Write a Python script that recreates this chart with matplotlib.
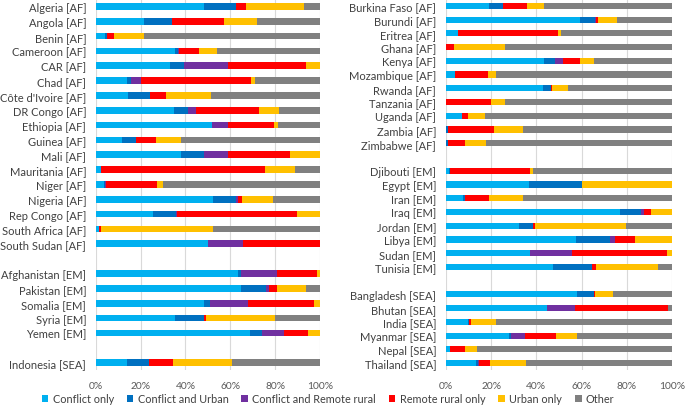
import numpy as np
import matplotlib.pyplot as plt

plt.rcParams['font.family'] = ['Lato', 'DejaVu Sans']

categorias = ['Conflict only', 'Conflict and Urban', 'Conflict and Remote rural',
              'Remote rural only', 'Urban only', 'Other']
colores = ['#00B0F0', '#0070C0', '#7030A0', '#FF0000', '#FFC000', '#808080']

# Panel izquierdo (None = fila vacía)
paises_izq = ['Algeria [AF]', 'Angola [AF]', 'Benin [AF]', 'Cameroon [AF]', 'CAR [AF]',
              'Chad [AF]', "Côte d'Ivoire [AF]", 'DR Congo [AF]', 'Ethiopia [AF]',
              'Guinea [AF]', 'Mali [AF]', 'Mauritania [AF]', 'Niger [AF]', 'Nigeria [AF]',
              'Rep Congo [AF]', 'South Africa [AF]', 'South Sudan [AF]', None,
              'Afghanistan [EM]', 'Pakistan [EM]', 'Somalia [EM]', 'Syria [EM]',
              'Yemen [EM]', None, 'Indonesia [SEA]']
valores_izq = [
    [48.4, 14.0, 0.0, 4.8, 25.9, 6.9],
    [21.6, 12.3, 0.0, 23.4, 14.8, 27.9],
    [4.2, 0.6, 0.0, 3.3, 13.4, 78.5],
    [35.5, 1.0, 0.8, 8.7, 8.2, 45.8],
    [33.1, 6.2, 19.8, 34.5, 6.4, 0.0],
    [13.7, 1.8, 4.6, 49.3, 1.8, 28.8],
    [14.5, 9.7, 0.0, 7.1, 20.2, 48.5],
    [34.9, 6.0, 3.6, 28.2, 9.2, 18.1],
    [51.8, 0.0, 7.2, 20.6, 1.7, 18.7],
    [11.6, 6.3, 0.0, 8.8, 11.4, 61.9],
    [37.9, 10.2, 10.7, 27.8, 13.4, 0.0],
    [2.4, 0.0, 0.0, 73.3, 13.4, 10.9],
    [3.6, 0.4, 0.3, 22.9, 2.7, 70.1],
    [52.5, 10.2, 0.6, 2.1, 13.7, 20.9],
    [25.5, 10.3, 0.6, 53.3, 10.3, 0.0],
    [1.2, 0.0, 0.0, 0.9, 50.4, 47.5],
    [49.9, 0.0, 15.6, 34.4, 0.1, 0.0],
    None,
    [63.6, 1.3, 16.1, 17.5, 1.5, 0.0],
    [64.8, 11.0, 1.7, 3.5, 12.6, 6.4],
    [48.4, 2.6, 16.9, 29.4, 2.7, 0.0],
    [35.5, 12.6, 0.0, 1.0, 30.8, 20.1],
    [68.8, 5.4, 9.8, 10.5, 5.5, 0.0],
    None,
    [13.9, 10.0, 0.0, 10.7, 26.3, 39.1],
]

# Panel derecho
paises_der = ['Burkina Faso [AF]', 'Burundi [AF]', 'Eritrea [AF]', 'Ghana [AF]',
              'Kenya [AF]', 'Mozambique [AF]', 'Rwanda [AF]', 'Tanzania [AF]',
              'Uganda [AF]', 'Zambia [AF]', 'Zimbabwe [AF]', None,
              'Djibouti [EM]', 'Egypt [EM]', 'Iran [EM]', 'Iraq [EM]', 'Jordan [EM]',
              'Libya [EM]', 'Sudan [EM]', 'Tunisia [EM]', None,
              'Bangladesh [SEA]', 'Bhutan [SEA]', 'India [SEA]', 'Myanmar [SEA]',
              'Nepal [SEA]', 'Thailand [SEA]']
valores_der = [
    [18.9, 6.5, 0.0, 10.3, 7.5, 56.8],
    [59.1, 7.0, 0.3, 0.7, 8.7, 24.2],
    [5.5, 0.0, 0.0, 44.0, 1.5, 49.0],
    [0.0, 0.0, 0.0, 3.6, 22.7, 73.7],
    [43.2, 5.2, 3.3, 7.4, 6.3, 34.6],
    [4.0, 0.0, 0.0, 14.6, 3.5, 77.9],
    [43.1, 3.4, 0.0, 0.3, 7.3, 45.9],
    [0.0, 0.0, 0.0, 20.1, 6.1, 73.8],
    [7.3, 0.0, 0.0, 2.5, 7.4, 82.8],
    [0.0, 0.7, 0.0, 20.7, 12.5, 66.1],
    [0.0, 0.7, 0.0, 7.8, 9.3, 82.2],
    None,
    [1.2, 0.6, 0.0, 35.2, 1.6, 61.4],
    [36.7, 23.3, 0.0, 0.3, 39.7, 0.0],
    [7.6, 0.7, 0.0, 10.9, 14.7, 66.1],
    [77.1, 9.4, 0.9, 3.1, 9.5, 0.0],
    [32.5, 6.0, 0.0, 0.7, 40.3, 20.5],
    [57.4, 15.4, 2.1, 8.9, 16.2, 0.0],
    [37.0, 0.0, 18.7, 41.9, 2.4, 0.0],
    [47.3, 17.3, 0.0, 1.7, 27.5, 6.2],
    None,
    [58.1, 7.3, 0.0, 0.4, 7.9, 26.3],
    [44.6, 0.0, 12.6, 40.9, 0.0, 1.9],
    [9.8, 0.6, 0.0, 0.7, 11.2, 77.7],
    [28.1, 0.7, 6.1, 13.7, 9.5, 41.9],
    [1.8, 0.0, 0.0, 6.5, 5.5, 86.2],
    [13.1, 1.3, 0.4, 4.7, 15.7, 64.8],
]


def dibujar(ax, paises, valores):
    n = len(paises)
    y = np.arange(n)
    filas = [i for i in range(n) if paises[i] is not None]
    datos = np.array([valores[i] for i in filas])
    izquierda = np.zeros(len(filas))
    for j, cat in enumerate(categorias):
        ax.barh(y[filas], datos[:, j], left=izquierda, height=0.45,
                color=colores[j], label=cat, zorder=3)
        izquierda += datos[:, j]
    ax.set_yticks(y[filas])
    ax.set_yticklabels([paises[i] for i in filas], fontsize=8.0, color='#404040')
    ax.set_ylim(n - 0.5, -0.5)
    ax.set_xlim(0, 100)
    ax.set_xticks(np.arange(0, 101, 20))
    ax.set_xticklabels(['%d%%' % v for v in range(0, 101, 20)], fontsize=7.4, color='#595959')
    ax.tick_params(length=0, pad=8)
    ax.tick_params(axis='y', pad=7)
    ax.grid(axis='x', color='#D9D9D9', linewidth=0.8, zorder=0)
    for s in ax.spines.values():
        s.set_visible(False)


fig = plt.figure(figsize=(6.85, 4.14), dpi=100)
ax1 = fig.add_axes([0.140, 0.104, 0.327, 0.896])
ax2 = fig.add_axes([0.651, 0.104, 0.330, 0.896])
dibujar(ax1, paises_izq, valores_izq)
dibujar(ax2, paises_der, valores_der)

handles, labels = ax1.get_legend_handles_labels()
fig.legend(handles, labels, loc='center', bbox_to_anchor=(0.479, 0.035), ncol=6,
           frameon=False, fontsize=7.8, handlelength=0.6, handleheight=0.6,
           handletextpad=0.4, columnspacing=1.2, labelcolor='#404040')

fig.savefig('out.png', dpi=100)
